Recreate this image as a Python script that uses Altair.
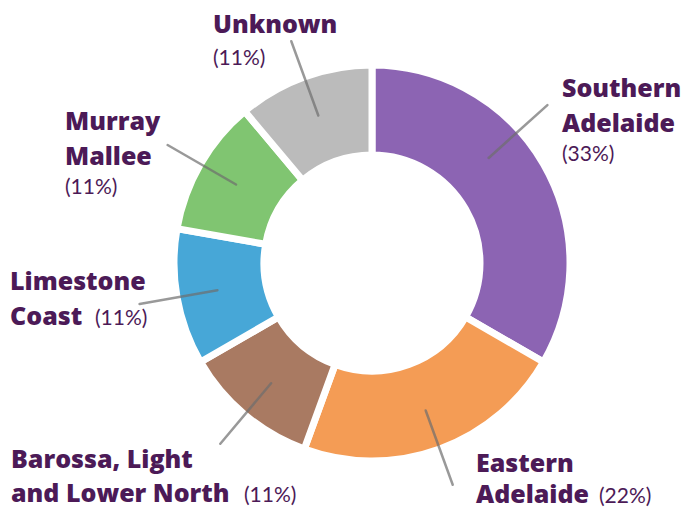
import altair as alt
import pandas as pd

# ---- data ----
categories = ["Southern Adelaide", "Eastern Adelaide", "Barossa, Light and Lower North",
              "Limestone Coast", "Murray Mallee", "Unknown"]
percent = [33, 22, 11, 11, 11, 11]
colors = ["#8C64B3", "#F49C55", "#A97A62", "#47A7D7", "#80C571", "#BBBBBB"]

# ---- layout (styling only) ----
CX, CY = 372, 263
R_IN, R_OUT = 108, 198
TEXT = "#4C1A57"
# label rows: category -> list of (text or None for percent, bold, x, y)
label_rows = {
    "Southern Adelaide": [("Southern", True, 562, 97), ("Adelaide", True, 562, 132), (None, False, 562, 161)],
    "Eastern Adelaide": [("Eastern", True, 476, 472), ("Adelaide", True, 476, 503), (None, False, 599, 503)],
    "Barossa, Light and Lower North": [("Barossa, Light", True, 11, 468), ("and Lower North", True, 11, 502),
                                       (None, False, 244, 502)],
    "Limestone Coast": [("Limestone", True, 10, 290), ("Coast", True, 10, 325), (None, False, 95, 325)],
    "Murray Mallee": [("Murray", True, 65, 130), ("Mallee", True, 65, 165), (None, False, 65, 194)],
    "Unknown": [("Unknown", True, 213, 33), (None, False, 213, 65)],
}
leader_shift = {"Southern Adelaide": -12}

df = pd.DataFrame({
    "category": categories,
    "value": percent,
    "idx": list(range(len(categories))),
    "shift": [leader_shift.get(c, 0) for c in categories],
})

rows = []
for c, p in zip(categories, percent):
    for t, b, x, y in label_rows[c]:
        rows.append({"text": t if t is not None else f"({p}%)", "bold": b, "x": x, "y": y})
labels = pd.DataFrame(rows)

base = alt.Chart(df)

arcs = base.mark_arc(innerRadius=R_IN, outerRadius=R_OUT, stroke="white", strokeWidth=7).encode(
    theta=alt.Theta("value:Q", stack=True),
    order=alt.Order("idx:Q"),
    color=alt.Color("category:N", scale=alt.Scale(domain=categories, range=colors), legend=None),
    x=alt.value(CX),
    y=alt.value(CY),
)

leaders = base.transform_joinaggregate(total="sum(value)").transform_window(
    cum="sum(value)", sort=[alt.SortField("idx")], frame=[None, 0]
).transform_calculate(
    ang="((datum.cum - datum.value/2)/datum.total)*2*PI + datum.shift*PI/180"
).transform_calculate(
    x1=f"{CX} + 157*sin(datum.ang)", y1=f"{CY} - 157*cos(datum.ang)",
    x2=f"{CX} + 236*sin(datum.ang)", y2=f"{CY} - 236*cos(datum.ang)",
).mark_rule(color="#6E6E6E", strokeWidth=2.5, opacity=0.7, strokeCap="round").encode(
    x=alt.X("x1:Q", scale=None), y=alt.Y("y1:Q", scale=None),
    x2="x2:Q", y2="y2:Q",
)

bold_txt = alt.Chart(labels).transform_filter("datum.bold").mark_text(
    font="Open Sans", fontSize=25, fontWeight=800, color=TEXT, align="left", baseline="alphabetic"
).encode(x=alt.X("x:Q", scale=None), y=alt.Y("y:Q", scale=None), text="text:N")

reg_txt = alt.Chart(labels).transform_filter("!datum.bold").mark_text(
    font="Lato", fontSize=21, fontWeight="normal", color=TEXT, align="left", baseline="alphabetic"
).encode(x=alt.X("x:Q", scale=None), y=alt.Y("y:Q", scale=None), text="text:N")

chart = alt.layer(arcs, leaders, bold_txt, reg_txt).properties(
    width=688, height=511, autosize=alt.AutoSizeParams(type="none"), padding=0
).configure_view(stroke=None)

chart.save("out.html", embed_options={"renderer": "svg", "actions": False})
